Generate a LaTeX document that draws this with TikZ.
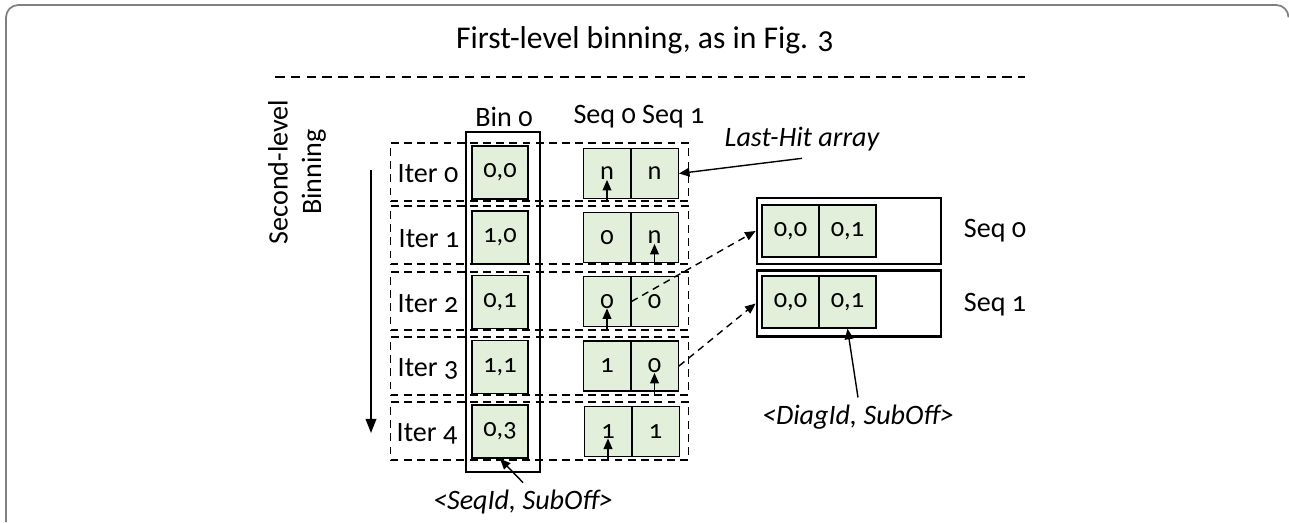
\documentclass[tikz,border=0pt]{standalone}
\usepackage{fontspec}
\setmainfont{Carlito}[Numbers=OldStyle]
\usepackage{tikz}
\definecolor{cellgreen}{RGB}{226, 239, 218}
\definecolor{framegray}{RGB}{128, 128, 128}
\usetikzlibrary{arrows.meta,positioning,calc}

\begin{document}
\begin{tikzpicture}[
    x=0.02cm, y=-0.02cm,
    lbl/.style={
        font=\fontsize{16}{19}\selectfont,
        inner sep=2pt
    },
    note/.style={
        font=\fontsize{16}{19}\selectfont\itshape,
        inner sep=4pt
    },
    cell/.style={
        rectangle,
        draw,
        fill=cellgreen,
        line width=0.85pt,
        inner sep=0pt,
        font=\fontsize{15}{18}\selectfont
    },
    bincell/.style={cell, minimum width=1.12cm, minimum height=1.06cm},
    hitcell/.style={cell, minimum width=0.95cm, minimum height=1.0cm},
    seqcell/.style={cell, minimum width=1.14cm, minimum height=1.04cm},
    iterbox/.style={
        rectangle,
        draw,
        line width=0.8pt,
        dash pattern=on 4.5pt off 3pt,
        minimum width=5.96cm,
        minimum height=1.16cm,
        inner sep=0pt
    },
    seqbox/.style={
        rectangle,
        draw,
        line width=1.6pt,
        minimum width=3.68cm,
        minimum height=1.32cm,
        inner sep=0pt
    },
    ptr/.style={-{Triangle[length=6pt,width=5pt]}, line width=0.8pt},
    dptr/.style={ptr, dash pattern=on 4pt off 3pt}
]
    \useasboundingbox (0,0) rectangle (1289,522);

    % Frame and title
    \draw[framegray, line width=1pt, rounded corners=7pt]
        (6,522) -- (6,5) -- (1288.5,5) -- (1288.5,16);
    \node[lbl, font=\fontsize{18}{21}\selectfont] (title) at (645,40) {First-level binning, as in Fig. 3};
    \coordinate (dashl) at (275,77);
    \coordinate (dashr) at (1025,77);
    \draw[line width=1.1pt, dash pattern=on 5.5pt off 3.5pt] (dashl) -- (dashr);

    % Second-level binning
    \node[lbl, rotate=90, align=center] (second) at (297,172) {Second-level\\Binning};
    \coordinate (itop) at (371,170);
    \coordinate (ibot) at (371,433);
    \draw[-{Triangle[length=8pt,width=6pt]}, line width=1pt] (itop) -- (ibot);

    % Iterations
    \node[iterbox] (row0) at (539.5,172) {};
    \node[iterbox] (row1) at (539.5,235) {};
    \node[iterbox] (row2) at (539.5,301) {};
    \node[iterbox] (row3) at (539.5,366) {};
    \node[iterbox] (row4) at (539.5,431) {};
    \node[lbl] (it0) at (428,174) {Iter 0};
    \node[lbl] (it1) at (429,239) {Iter 1};
    \node[lbl] (it2) at (428,304) {Iter 2};
    \node[lbl] (it3) at (428,369) {Iter 3};
    \node[lbl] (it4) at (427,434) {Iter 4};

    % Bin 0
    \node[draw, line width=1.5pt, minimum width=1.48cm, minimum height=6.8cm, inner sep=0pt] (bin) at (503,302) {};
    \node[lbl] (binhead) at (504,117) {Bin 0};
    \node[bincell] (b0) at (500,172.5) {0,0};
    \node[bincell] (b1) at (500,237.3) {1,0};
    \node[bincell] (b2) at (500,302) {0,1};
    \node[bincell] (b3) at (500,366.8) {1,1};
    \node[bincell] (b4) at (500,431.5) {0,3};

    % Last-Hit arrays
    \node[lbl] (seqhead) at (639,117) {Seq 0 Seq 1};
    \node[hitcell] (a0l) at (607,173.5) {n};
    \node[hitcell] (a0r) at (654.5,173.5) {n};
    \node[hitcell] (a1l) at (607,237.5) {0};
    \node[hitcell] (a1r) at (654.5,237.5) {n};
    \node[hitcell] (a2l) at (607,301.5) {0};
    \node[hitcell] (a2r) at (654.5,301.5) {0};
    \node[hitcell] (a3l) at (607,366) {1};
    \node[hitcell] (a3r) at (654.5,366) {0};
    \node[hitcell] (a4l) at (608,431.5) {1};
    \node[hitcell] (a4r) at (655.5,431.5) {1};
    \draw[ptr] (row0.south -| a0l.base) -- (a0l.base);
    \draw[ptr] (row1.south -| a1r.base) -- (a1r.base);
    \draw[ptr] (row2.south -| a2l.base) -- (a2l.base);
    \draw[ptr] (row3.south -| a3r.base) -- (a3r.base);
    \draw[ptr] (row4.south -| a4l.base) -- (a4l.base);

    \node[note] (lasthit) at (802,139) {Last-Hit array};
    \draw[ptr] (lasthit.south) -- (a0r.east);

    % Per-sequence lists
    \node[seqbox] (seq0) at (849,231) {};
    \node[seqbox] (seq1) at (849,303.5) {};
    \node[seqcell] (s0a) at (790.5,231) {0,0};
    \node[seqcell] (s0b) at (847.5,231) {0,1};
    \node[seqcell] (s1a) at (790.5,302) {0,0};
    \node[seqcell] (s1b) at (847.5,302) {0,1};
    \node[lbl] (seq0lbl) at (995,231) {Seq 0};
    \node[lbl] (seq1lbl) at (995,305) {Seq 1};
    \draw[dptr] (a2l.east) -- (seq0.west);
    \draw[dptr] (a3r.east) -- (seq1.west);

    % Element formats
    \node[note] (diag) at (858,417) {<DiagId, SubOff>};
    \draw[ptr] (diag.north) -- (s1b.south);
    \node[note] (seqid) at (523,502) {<SeqId, SubOff>};
    \draw[ptr] (seqid.north) -- (b4.south);
\end{tikzpicture}
\end{document}
